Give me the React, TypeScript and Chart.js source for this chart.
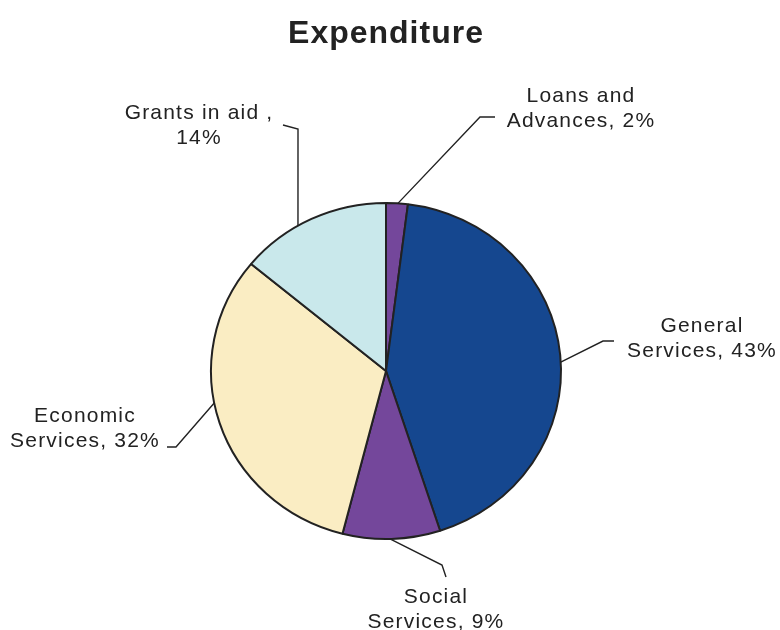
import React, { useEffect, useRef } from "react";
import { Chart, registerables } from "chart.js";

Chart.register(...registerables);

const title = "Expenditure";
const categories = ["Loans and Advances", "General Services", "Social Services", "Economic Services", "Grants in aid"];
const shares = [2, 43, 9, 32, 14];
const colors = ["#74479B", "#15478F", "#74479B", "#FAEDC3", "#C9E8EB"];
const labelLines = [
  ["Loans and", "Advances, 2%"],
  ["General", "Services, 43%"],
  ["Social", "Services, 9%"],
  ["Economic", "Services, 32%"],
  ["Grants in aid ,", "14%"],
];

// label layout (positions/styles only)
const labelLayout = [
  { cx: 581, by: 102, shift: 0.3, path: [[480, 117], [495, 117]] },
  { cx: 702, by: 332, shift: 2.4, path: [[603, 341], [614, 341]] },
  { cx: 436, by: 603, shift: 0.5, path: [[442, 565], [446, 577]] },
  { cx: 85, by: 422, shift: 7, path: [[176, 447], [167, 447]] },
  { cx: 199, by: 119, shift: -5, path: [[298, 129], [283, 125]] },
];

const Y_SCALE = 168 / 175;

export default function App() {
  const ref = useRef<HTMLCanvasElement | null>(null);
  useEffect(() => {
    if (!ref.current) return;
    const ellipse = {
      id: "ellipse",
      beforeDatasetsDraw(chart: any) {
        const arc = chart.getDatasetMeta(0).data[0];
        const ctx = chart.ctx;
        ctx.save();
        ctx.translate(arc.x, arc.y);
        ctx.scale(1, Y_SCALE);
        ctx.translate(-arc.x, -arc.y);
      },
      afterDatasetsDraw(chart: any) {
        chart.ctx.restore();
      },
    };
    const labels = {
      id: "labelsAndTitle",
      afterDraw(chart: any) {
        const ctx = chart.ctx;
        const meta = chart.getDatasetMeta(0);
        ctx.save();
        // title
        ctx.fillStyle = "#222";
        ctx.font = "bold 32px 'Liberation Sans', Arial, sans-serif";
        (ctx as any).letterSpacing = "1px";
        ctx.textAlign = "center";
        ctx.textBaseline = "alphabetic";
        ctx.fillText(title, 386, 43);
        // labels
        ctx.font = "21px 'Liberation Sans', Arial, sans-serif";
        (ctx as any).letterSpacing = "1.2px";
        meta.data.forEach((arc: any, i: number) => {
          const L = labelLayout[i];
          const a = (arc.startAngle + arc.endAngle) / 2 + (L.shift * Math.PI) / 180;
          const R = arc.outerRadius;
          const ax = arc.x + R * Math.cos(a);
          const ay = arc.y + R * Y_SCALE * Math.sin(a);
          ctx.strokeStyle = "#222";
          ctx.lineWidth = 1.4;
          ctx.beginPath();
          ctx.moveTo(ax, ay);
          L.path.forEach((p) => ctx.lineTo(p[0], p[1]));
          ctx.stroke();
          labelLines[i].forEach((t, j) => {
            ctx.fillText(t, L.cx, L.by + j * 25);
          });
        });
        ctx.restore();
      },
    };
    const chart = new Chart(ref.current, {
      type: "pie",
      data: {
        labels: categories,
        datasets: [
          {
            data: shares,
            backgroundColor: colors,
            borderColor: "#222",
            borderWidth: 2,
          },
        ],
      },
      options: {
        animation: false,
        responsive: false,
        devicePixelRatio: 1,
        layout: { padding: { left: 210, right: 218, top: 195, bottom: 83 } },
        plugins: {
          legend: { display: false },
          tooltip: { enabled: false },
          title: { display: false },
        },
      },
      plugins: [ellipse, labels],
    });
    return () => chart.destroy();
  }, []);
  return (
    <div style={{ position: "fixed", left: 0, top: 0, width: 780, height: 630, background: "#fff" }}>
      <canvas ref={ref} width={780} height={630} style={{ width: 780, height: 630 }} />
    </div>
  );
}
